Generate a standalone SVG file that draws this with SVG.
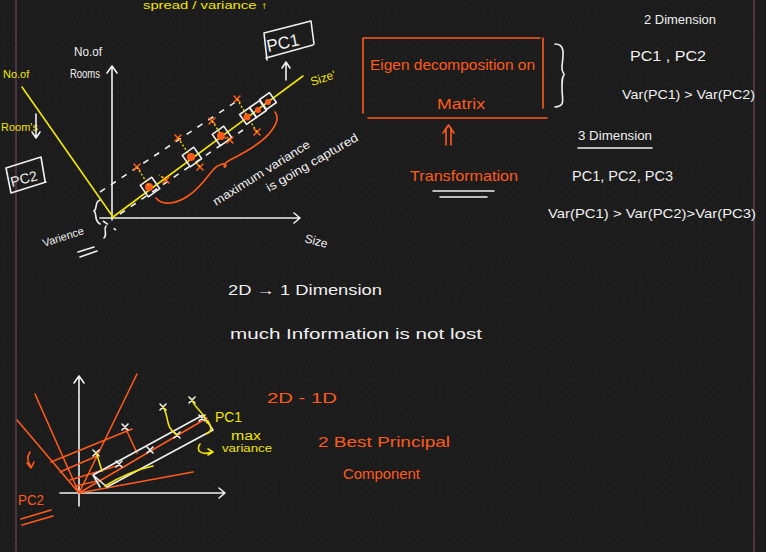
<svg xmlns="http://www.w3.org/2000/svg" width="766" height="552" viewBox="0 0 766 552">
<defs>
<pattern id="dots" x="4" y="4" width="8.7" height="8.7" patternUnits="userSpaceOnUse">
<circle cx="1" cy="1" r="0.6" fill="#353535"/>
</pattern>
<style>
.w{stroke:#f0f0f0;fill:none;stroke-width:1.6;stroke-linecap:round;stroke-linejoin:round}
.y{stroke:#f2e600;fill:none;stroke-width:1.6;stroke-linecap:round;stroke-linejoin:round}
.o{stroke:#ff5a1c;fill:none;stroke-width:1.6;stroke-linecap:round;stroke-linejoin:round}
.wd{stroke:#f0f0f0;fill:none;stroke-width:1.6;stroke-dasharray:6 7}
.yd{stroke:#f2e600;fill:none;stroke-width:1.3;stroke-dasharray:2 2}
text{font-family:"Liberation Sans",Arial,sans-serif}
.tw{fill:#f0f0f0}
.ty{fill:#f2e600}
.to{fill:#ff5a1c}
.dot{fill:#ff5a1c}
</style>
</defs>
<rect width="766" height="552" fill="#1c1c1c"/>
<rect width="766" height="552" fill="url(#dots)"/>
<line x1="16" y1="0" x2="16" y2="552" stroke="#5e3d4c" stroke-width="1.5"/>
<line x1="754" y1="0" x2="754" y2="552" stroke="#5e3d4c" stroke-width="1.5"/>

<!-- top cut-off text -->
<text class="ty" x="143" y="9" font-size="10" textLength="125" lengthAdjust="spacingAndGlyphs">spread / variance ↑</text>

<!-- Top-left diagram -->
<g id="top-diagram">
<!-- axes -->
<path class="w" d="M112 220 V67 M107 73 L112 66 L117 73"/>
<path class="w" d="M100 218 H300 M294 213 L300 218 L294 223"/>
<text class="tw" x="74" y="56" font-size="13" textLength="28" lengthAdjust="spacingAndGlyphs">No.of</text>
<text class="tw" x="70" y="78" font-size="13" textLength="30" lengthAdjust="spacingAndGlyphs">Rooms</text>
<text class="tw" x="304" y="242" font-size="12" transform="rotate(15 304 242)">Size</text>
<!-- PC lines -->
<line class="y" x1="113" y1="217" x2="303" y2="76"/>
<line class="y" x1="22" y1="87" x2="113" y2="217"/>
<text class="ty" x="312" y="86" font-size="12" transform="rotate(-18 312 86)">Size'</text>
<text class="ty" x="3" y="78" font-size="11">No.of</text>
<text class="ty" x="1" y="131" font-size="11">Room's</text>
<path class="w" d="M36 114 V137 M32 132 L36 138 L40 132"/>
<!-- PC1 box -->
<g id="pc1-box">
<path class="w" d="M264 33 L311 21 M266 58 L313 45 M264 33 L267 60 M311 21 L314 44"/>
<text class="tw" x="268" y="52" font-size="17" transform="rotate(-12 268 52)">PC1</text>
<path class="w" d="M286 80 V63 M282 68 L286 62 L290 68"/>
</g>
<!-- PC2 box -->
<g id="pc2-box">
<path class="w" d="M6 168 L41 157 M11 193 L46 182 M6 168 L11 193 M41 157 L45 181"/>
<text class="tw" x="12" y="187" font-size="14" transform="rotate(-15 12 187)">PC2</text>
</g>
<!-- dashed parallels -->
<line class="wd" x1="100" y1="192" x2="240" y2="99"/>
<line class="wd" x1="120" y1="214" x2="243" y2="130"/>
<!-- points -->
<g transform="rotate(-35 150 187)"><rect class="w" x="143" y="180" width="14" height="14"/></g>
<circle class="dot" cx="149" cy="187" r="4"/>
<g transform="rotate(-35 192 157)"><rect class="w" x="185" y="150" width="14" height="14"/></g>
<circle class="dot" cx="191" cy="157" r="4"/>
<g transform="rotate(-35 222 136)"><rect class="w" x="215" y="129" width="14" height="14"/></g>
<circle class="dot" cx="221" cy="136" r="4"/>
<g transform="rotate(-35 248 116)"><rect class="w" x="242" y="110" width="12" height="12"/></g>
<circle class="dot" cx="247" cy="117" r="3.5"/>
<g transform="rotate(-35 258 109)"><rect class="w" x="252" y="103" width="12" height="12"/></g>
<circle class="dot" cx="258" cy="110" r="3"/>
<g transform="rotate(-35 268 101)"><rect class="w" x="262" y="95" width="12" height="12"/></g>
<circle class="dot" cx="268" cy="102" r="3"/>
<!-- orange x marks -->
<path class="o" d="M134 164 l6 6 M140 164 l-6 6 M175 135 l6 6 M181 135 l-6 6 M209 118 l6 6 M215 118 l-6 6 M234 96 l6 6 M240 96 l-6 6 M163 177 l6 6 M169 177 l-6 6 M197 164 l6 6 M203 164 l-6 6 M227 137 l6 6 M233 137 l-6 6 M254 129 l6 6 M260 129 l-6 6"/>
<!-- yellow projections -->
<path class="yd" d="M137 167 L149 186 M178 138 L188 153 M212 121 L220 133 M237 99 L246 114 M166 180 L159 175 M200 167 L195 161 M230 140 L225 138 M257 132 L250 121"/>
<!-- orange brace -->
<path class="o" d="M156 198 C162 206 176 204 188 196 C200 188 206 178 213 170 C218 164 226 162 226 166 C224 170 222 164 230 160 C246 152 264 142 272 130 C278 122 278 116 275 112"/>
<text class="tw" x="216" y="206" font-size="12" transform="rotate(-32 216 206)" textLength="112" lengthAdjust="spacingAndGlyphs">maximum variance</text>
<text class="tw" x="269" y="192" font-size="12" transform="rotate(-30 269 192)" textLength="104" lengthAdjust="spacingAndGlyphs">is going captured</text>
<!-- variance brace -->
<path class="w" d="M100 200 C94 202 98 208 94 211 C98 214 93 220 100 224"/>
<path class="w" d="M106 226 C103 230 108 234 104 238"/>
<text class="tw" x="44" y="247" font-size="11" transform="rotate(-18 44 247)">Varience</text>
<path class="w" d="M78 252 L94 247 M80 257 L97 251"/>
<path class="wd" d="M103 221 L116 230"/>
</g>

<!-- Eigen box -->
<g id="eigen-box">
<path class="o" d="M363 38 V113 M363 38 H540 M543 38 V108 M368 118 H547"/>
<text class="to" x="370" y="70" font-size="15" textLength="165" lengthAdjust="spacingAndGlyphs">Eigen decomposition on</text>
<text class="to" x="437" y="109" font-size="14" textLength="48" lengthAdjust="spacingAndGlyphs">Matrix</text>
<path class="w" d="M555 44 C566 44 563 56 562 66 C561 72 565 74 564 75 C562 77 562 80 562 88 C562 100 566 106 555 107"/>
<path class="o" d="M446 145 V128 M451 145 V128 M443 133 L448.5 125 L454 133"/>
<text class="to" x="410" y="181" font-size="15" textLength="108" lengthAdjust="spacingAndGlyphs">Transformation</text>
<path class="w" d="M433 191 H494 M440 197 H487"/>
</g>

<!-- right column -->
<g id="dimensions">
<text class="tw" x="644" y="24" font-size="12" textLength="72" lengthAdjust="spacingAndGlyphs">2 Dimension</text>
<text class="tw" x="630" y="61" font-size="14" textLength="76" lengthAdjust="spacingAndGlyphs">PC1 , PC2</text>
<text class="tw" x="622" y="99" font-size="13" textLength="133" lengthAdjust="spacingAndGlyphs">Var(PC1) &gt; Var(PC2)</text>
<text class="tw" x="578" y="140" font-size="12" textLength="74" lengthAdjust="spacingAndGlyphs">3 Dimension</text>
<path class="w" d="M578 148 H652"/>
<text class="tw" x="572" y="181" font-size="15" textLength="101" lengthAdjust="spacingAndGlyphs">PC1, PC2, PC3</text>
<text class="tw" x="548" y="218" font-size="13" textLength="208" lengthAdjust="spacingAndGlyphs">Var(PC1) &gt; Var(PC2)&gt;Var(PC3)</text>
</g>

<!-- middle text -->
<g id="middle-text">
<text class="tw" x="228" y="295" font-size="14" textLength="154" lengthAdjust="spacingAndGlyphs">2D → 1 Dimension</text>
<text class="tw" x="230" y="339" font-size="15" textLength="252" lengthAdjust="spacingAndGlyphs">much Information is not lost</text>
</g>

<!-- bottom diagram -->
<g id="bottom-diagram">
<path class="w" d="M79 506 V377 M74 383 L79 376 L84 383"/>
<path class="w" d="M60 493 H225 M219 488 L225 493 L219 498"/>
<path class="o" d="M79 493 L137 374 M79 493 L35 394 M79 493 L17 420 M79 493 L193 472 M79 493 L207 418"/>
<path class="o" d="M51 462 L132 429 M60 472 L97 456 M70 480 L120 465 M76 486 L97 481 M125 427 L137 453"/>
<path class="o" d="M30 452 C26 458 28 462 31 467 M27 463 L31 468 L34 462"/>
<!-- rectangle -->
<path class="w" d="M93 475 L203 415 L213 430 L107 487 Z M93 475 L100 487"/>
<!-- x marks -->
<path class="w" d="M122 424 l6 6 M128 424 l-6 6 M93 450 l6 6 M99 450 l-6 6 M116 461 l6 6 M122 461 l-6 6 M147 447 l6 6 M153 447 l-6 6 M174 432 l6 6 M180 432 l-6 6 M160 404 l6 6 M166 404 l-6 6 M189 397 l6 6 M195 397 l-6 6 M199 415 l6 6 M205 415 l-6 6"/>
<!-- yellow -->
<path class="y" d="M96 453 C99 460 100 465 102 471 M163 407 C170 418 164 426 177 435 M192 400 C196 410 206 414 207 423 M105 486 C118 478 135 470 153 466 M208 421 C212 428 212 432 206 434"/>
<path class="y" d="M200 444 C196 450 200 456 212 452 M208 449 L213 452 L208 455"/>
<text class="ty" x="215" y="422" font-size="15" textLength="27" lengthAdjust="spacingAndGlyphs">PC1</text>
<text class="ty" x="231" y="440" font-size="12" textLength="30" lengthAdjust="spacingAndGlyphs">max</text>
<text class="ty" x="222" y="452" font-size="11" textLength="50" lengthAdjust="spacingAndGlyphs">variance</text>
<text class="to" x="18" y="505" font-size="15" textLength="26" lengthAdjust="spacingAndGlyphs">PC2</text>
<path class="o" d="M21 519 L51 510 M22 525 L53 516"/>
</g>

<g id="bottom-text">
<text class="to" x="267" y="403" font-size="15" textLength="70" lengthAdjust="spacingAndGlyphs">2D - 1D</text>
<text class="to" x="318" y="447" font-size="15" textLength="132" lengthAdjust="spacingAndGlyphs">2 Best Principal</text>
<text class="to" x="343" y="479" font-size="14" textLength="77" lengthAdjust="spacingAndGlyphs">Component</text>
</g>
</svg>
